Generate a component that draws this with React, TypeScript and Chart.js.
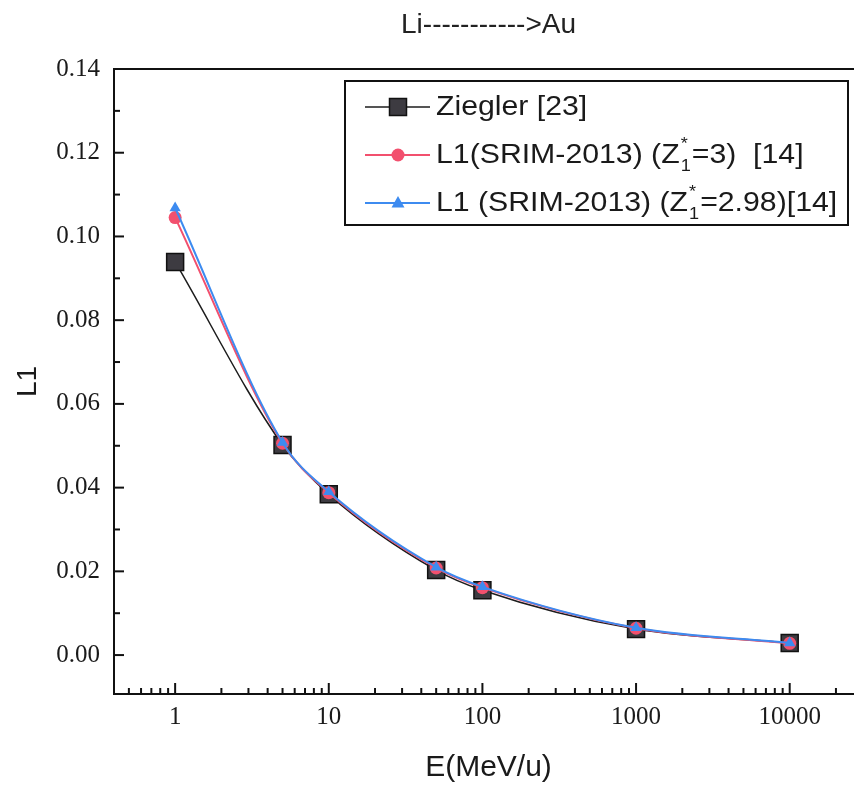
import React, { useEffect, useRef } from 'react';
import { Chart, registerables } from 'chart.js';

Chart.register(...registerables);

// ---- data ----
const energies = [1, 5, 10, 50, 100, 1000, 10000];
const zieglerL1 = [0.0939, 0.0502, 0.0384, 0.0203, 0.0155, 0.0062, 0.0029];
const srimZ3L1 = [0.1045, 0.0506, 0.0388, 0.0208, 0.0161, 0.0064, 0.0028];
const srimZ298L1 = [0.1068, 0.0508, 0.039, 0.021, 0.0163, 0.0065, 0.0029];

const xTickValues = [1, 10, 100, 1000, 10000];
const yTickValues = [0, 0.02, 0.04, 0.06, 0.08, 0.1, 0.12, 0.14];

const chartTitle = 'Li----------->Au';
const xTitle = 'E(MeV/u)';
const yTitle = 'L1';

type Seg = { t: string; sup?: string };
const legendZiegler: Seg[] = [{ t: 'Ziegler [23]' }];
const legendZ3: Seg[] = [{ t: 'L1(SRIM-2013) (Z' }, { t: '1', sup: '*' }, { t: '=3)  [14]' }];
const legendZ298: Seg[] = [{ t: 'L1 (SRIM-2013) (Z' }, { t: '1', sup: '*' }, { t: '=2.98)[14]' }];

const BLACK = '#1c1c1c';
const SQ_FILL = '#3d3b41';
const RED = '#f2506e';
const BLUE = '#3d8bf0';
const SANS = '"Liberation Sans", Arial, sans-serif';
const SERIF = '"Liberation Serif", "Times New Roman", serif';

function drawMarker(ctx: CanvasRenderingContext2D, kind: string, x: number, y: number) {
  ctx.save();
  if (kind === 'rect') {
    ctx.fillStyle = SQ_FILL;
    ctx.strokeStyle = '#111';
    ctx.lineWidth = 1.5;
    ctx.beginPath();
    ctx.rect(x - 8.5, y - 8.5, 17, 17);
    ctx.fill();
    ctx.stroke();
  } else if (kind === 'circle') {
    ctx.fillStyle = RED;
    ctx.beginPath();
    ctx.arc(x, y, 6.5, 0, Math.PI * 2);
    ctx.fill();
  } else {
    ctx.fillStyle = BLUE;
    ctx.beginPath();
    ctx.moveTo(x, y - 7);
    ctx.lineTo(x + 6.5, y + 4.5);
    ctx.lineTo(x - 6.5, y + 4.5);
    ctx.closePath();
    ctx.fill();
  }
  ctx.restore();
}

function drawRich(ctx: CanvasRenderingContext2D, segs: Seg[], x: number, y: number, fs: number, sx: number) {
  let cx = x;
  ctx.textBaseline = 'middle';
  ctx.textAlign = 'left';
  for (const s of segs) {
    if (s.sup !== undefined) {
      const small = fs * 0.6;
      ctx.font = `${small}px ${SANS}`;
      const w1 = ctx.measureText(s.t).width;
      const w2 = ctx.measureText(s.sup).width;
      ctx.save();
      ctx.translate(cx + 1, y + fs * 0.38);
      ctx.scale(sx, 1);
      ctx.fillText(s.t, 0, 0);
      ctx.restore();
      ctx.save();
      ctx.translate(cx + 1, y - fs * 0.42);
      ctx.scale(sx, 1);
      ctx.fillText(s.sup, 0, 0);
      ctx.restore();
      cx += Math.max(w1, w2) * sx + 2;
    } else {
      ctx.font = `${fs}px ${SANS}`;
      const w = ctx.measureText(s.t).width;
      ctx.save();
      ctx.translate(cx, y);
      ctx.scale(sx, 1);
      ctx.fillText(s.t, 0, 0);
      ctx.restore();
      cx += w * sx;
    }
  }
}

const framePlugin = {
  id: 'framePlugin',
  afterDraw(chart: any) {
    const { ctx, chartArea } = chart;
    const { left, right, top, bottom } = chartArea;
    const xs = chart.scales.x;
    const ys = chart.scales.y;
    ctx.save();
    ctx.strokeStyle = '#111';
    // top frame
    ctx.lineWidth = 2;
    ctx.beginPath();
    ctx.moveTo(left, top);
    ctx.lineTo(right + 5, top);
    ctx.stroke();
    // y ticks (inward)
    ctx.lineWidth = 2;
    for (let k = 0; k <= 14; k++) {
      const v = k * 0.01;
      const py = ys.getPixelForValue(v);
      const len = k % 2 === 0 ? 10 : 6;
      ctx.beginPath();
      ctx.moveTo(left, py);
      ctx.lineTo(left + len, py);
      ctx.stroke();
    }
    // x ticks (inward), log minor
    for (let d = -1; d <= 4; d++) {
      for (let m = 1; m <= 9; m++) {
        const v = m * Math.pow(10, d);
        if (v < xs.min || v > xs.max) continue;
        const px = xs.getPixelForValue(v);
        const len = m === 1 ? 11 : 6;
        ctx.beginPath();
        ctx.moveTo(px, bottom);
        ctx.lineTo(px, bottom - len);
        ctx.stroke();
      }
    }
    // title
    ctx.fillStyle = '#222';
    ctx.font = `28px ${SANS}`;
    ctx.textAlign = 'center';
    ctx.textBaseline = 'middle';
    ctx.fillText(chartTitle, (left + right) / 2, 25);

    // legend
    const bx = 345, by = 81, bw = 503, bh = 144;
    ctx.fillStyle = '#fff';
    ctx.fillRect(bx, by, bw, bh);
    ctx.lineWidth = 2;
    ctx.strokeStyle = '#111';
    ctx.strokeRect(bx, by, bw, bh);
    const items = [
      { segs: legendZiegler, color: BLACK, lw: 1.5, marker: 'rect' },
      { segs: legendZ3, color: RED, lw: 2, marker: 'circle' },
      { segs: legendZ298, color: BLUE, lw: 2, marker: 'triangle' },
    ];
    items.forEach((it, i) => {
      const ry = by + 26 + i * 48;
      ctx.strokeStyle = it.color;
      ctx.lineWidth = it.lw;
      ctx.beginPath();
      ctx.moveTo(365, ry);
      ctx.lineTo(430, ry);
      ctx.stroke();
      drawMarker(ctx, it.marker, 398, ry);
      ctx.fillStyle = '#1a1a1a';
      drawRich(ctx, it.segs, 436, ry + 1, 27, 1.12);
    });
    ctx.restore();
  },
};

export default function App() {
  const ref = useRef<HTMLCanvasElement | null>(null);
  useEffect(() => {
    if (!ref.current) return;
    const toXY = (ys: number[]) => energies.map((x, i) => ({ x, y: ys[i] }));
    const chart = new Chart(ref.current, {
      type: 'line',
      data: {
        datasets: [
          {
            label: 'Ziegler [23]',
            data: toXY(zieglerL1),
            borderColor: BLACK,
            borderWidth: 1.5,
            backgroundColor: SQ_FILL,
            pointStyle: 'rect',
            pointRadius: 12,
            pointBorderColor: '#111',
            pointBorderWidth: 1.5,
            cubicInterpolationMode: 'monotone',
            order: 2,
          },
          {
            label: 'L1(SRIM-2013) (Z1*=3) [14]',
            data: toXY(srimZ3L1),
            borderColor: RED,
            borderWidth: 2,
            backgroundColor: RED,
            pointStyle: 'circle',
            pointRadius: 6.5,
            pointBorderWidth: 0,
            cubicInterpolationMode: 'monotone',
            order: 1,
          },
          {
            label: 'L1 (SRIM-2013) (Z1*=2.98)[14]',
            data: toXY(srimZ298L1),
            borderColor: BLUE,
            borderWidth: 2,
            backgroundColor: BLUE,
            pointStyle: 'triangle',
            pointRadius: 6.5,
            pointBorderWidth: 0,
            cubicInterpolationMode: 'monotone',
            order: 0,
          },
        ],
      } as any,
      options: {
        responsive: false,
        animation: false,
        devicePixelRatio: 1,
        layout: { padding: { top: 69, right: 17, left: 0, bottom: 0 } },
        plugins: { legend: { display: false }, tooltip: { enabled: false }, title: { display: false } },
        scales: {
          x: {
            type: 'logarithmic',
            min: 0.4,
            max: 30000,
            afterBuildTicks: (s: any) => {
              s.ticks = xTickValues.map((v) => ({ value: v }));
            },
            afterFit: (s: any) => {
              s.height = 94;
            },
            grid: { display: false, drawTicks: false },
            border: { display: true, color: '#111', width: 2 },
            ticks: {
              color: '#1a1a1a',
              font: { family: SERIF, size: 25 },
              padding: 8,
              maxRotation: 0,
              autoSkip: false,
              callback: (v: any) => String(v),
            },
            title: {
              display: true,
              text: xTitle,
              color: '#1a1a1a',
              font: { family: SANS, size: 30 },
              padding: { top: 0, bottom: 2 },
            },
          },
          y: {
            type: 'linear',
            min: -0.0093,
            max: 0.14,
            afterBuildTicks: (s: any) => {
              s.ticks = yTickValues.map((v) => ({ value: v }));
            },
            afterFit: (s: any) => {
              s.width = 114;
            },
            grid: { display: false, drawTicks: false },
            border: { display: true, color: '#111', width: 2 },
            ticks: {
              color: '#1a1a1a',
              font: { family: SERIF, size: 25 },
              padding: 14,
              callback: (v: any) => Number(v).toFixed(2),
            },
            title: {
              display: true,
              text: yTitle,
              color: '#1a1a1a',
              font: { family: SANS, size: 28 },
              padding: { top: 11, bottom: 0 },
            },
          },
        },
      } as any,
      plugins: [framePlugin],
    });
    return () => chart.destroy();
  }, []);

  return (
    <div style={{ position: 'fixed', left: 0, top: 0, width: 854, height: 788, overflow: 'hidden', background: '#fff' }}>
      <canvas ref={ref} width={880} height={788} style={{ display: 'block' }} />
    </div>
  );
}
